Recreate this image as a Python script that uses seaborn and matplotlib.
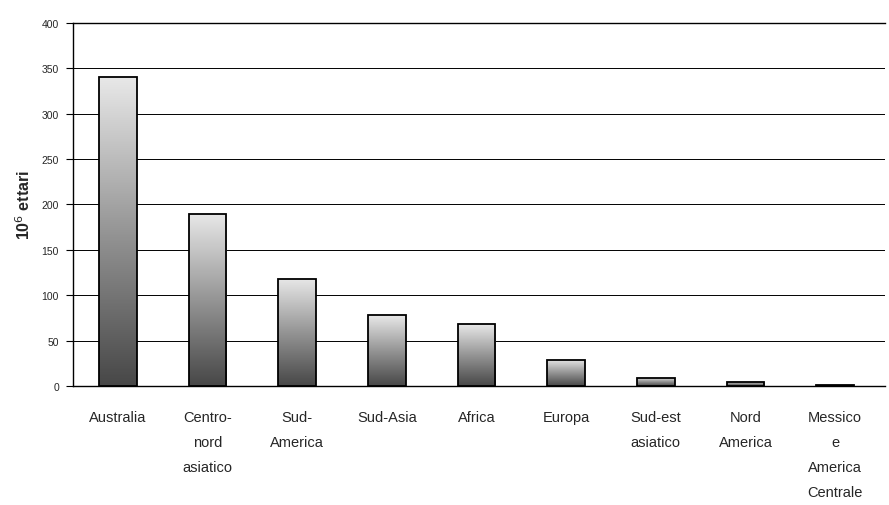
import numpy as np
import pandas as pd
import matplotlib
matplotlib.use("Agg")
import matplotlib.pyplot as plt
from matplotlib.colors import LinearSegmentedColormap
import seaborn as sns

# Regions and area (millions of hectares)
regions = [
    "Australia",
    "Centro-\nnord\nasiatico",
    "Sud-\nAmerica",
    "Sud-Asia",
    "Africa",
    "Europa",
    "Sud-est\nasiatico",
    "Nord\nAmerica",
    "Messico\ne\nAmerica\nCentrale",
]
area = [340, 190, 118, 78, 68, 29, 9, 5, 1.5]
y_ticks = [0, 50, 100, 150, 200, 250, 300, 350, 400]

sns.set_theme(style="white")
plt.rcParams["font.family"] = ["Liberation Sans", "DejaVu Sans"]

df = pd.DataFrame({"regione": regions, "ettari": area})

fig = plt.figure(figsize=(8.89, 5.06), dpi=100)
ax = fig.add_axes([0.082, 0.235, 0.913, 0.718])

sns.barplot(data=df, x="regione", y="ettari", ax=ax, color="white",
            width=0.42, edgecolor="black", linewidth=1.3, saturation=1, zorder=3)

# Vertical grey gradient inside each bar: light on top, dark at the base
cmap = LinearSegmentedColormap.from_list("grey_fade", ["#474747", "#959595", "#e8e8e8"])
grad = np.linspace(0, 1, 256).reshape(-1, 1)
for bar in ax.patches:
    x0, w, h = bar.get_x(), bar.get_width(), bar.get_height()
    img = ax.imshow(grad, cmap=cmap, origin="lower", aspect="auto",
                    extent=(x0, x0 + w, 0, h), zorder=3.5)
    img.set_clip_path(bar)
    bar.set_facecolor("none")
    bar.set_zorder(4)

ax.set_ylim(0, 400)
ax.set_xlim(-0.5, 8.55)
ax.set_yticks(y_ticks)
ax.set_yticklabels([str(v) for v in y_ticks], fontsize=7.5)
ax.yaxis.grid(True, color="black", linewidth=0.7, zorder=1)
ax.set_axisbelow(True)

# Category boundaries carry the tick marks; labels sit centred between them
ax.set_xticks(range(len(regions)))
ax.set_xticklabels(regions, fontsize=10.5, linespacing=2.0, va="top")
ax.set_xticks(np.arange(-0.5, len(regions), 1.0), minor=True)
ax.tick_params(axis="x", which="major", length=0, pad=17)
ax.tick_params(axis="x", which="minor", length=4, width=0.8, direction="out", color="black")
ax.tick_params(axis="y", length=5, width=0.8, direction="out", color="black", pad=5, left=True)

ax.set_xlabel("")
ax.set_ylabel("10$^6$ ettari", fontsize=11.5, fontweight="bold", labelpad=6)

for side in ["left", "bottom", "top"]:
    ax.spines[side].set_visible(True)
    ax.spines[side].set_color("black")
    ax.spines[side].set_linewidth(1.0)
ax.spines["right"].set_visible(False)

fig.savefig("out.png", dpi=100, facecolor="white")
